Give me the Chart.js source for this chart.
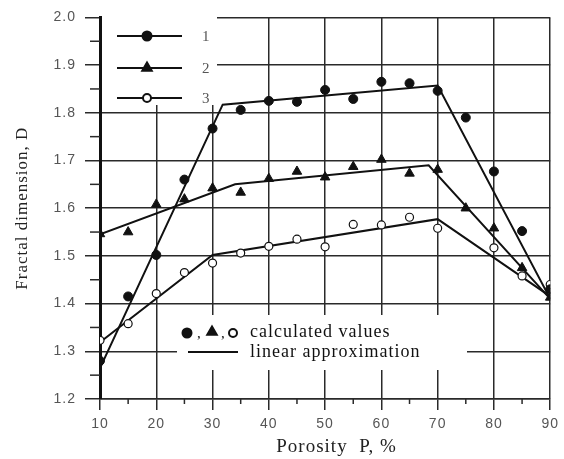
<!DOCTYPE html>
<html>
<head>
<meta charset="utf-8">
<script src="https://cdn.jsdelivr.net/npm/chart.js@4.4.0/dist/chart.umd.min.js"></script>
<style>
  html, body { margin: 0; padding: 0; background: #fff; }
</style>
</head>
<body>
<canvas id="fractalChart" width="564" height="459"></canvas>
<script>
// porosity values where D was calculated
const porosity = [10, 15, 20, 25, 30, 35, 40, 45, 50, 55, 60, 65, 70, 75, 80, 85, 90];

// calculated values (markers)
const calc1 = [1.28, 1.415, 1.502, 1.66, 1.767, 1.806, 1.825, 1.823, 1.848, 1.829, 1.865, 1.862, 1.846, 1.79, 1.677, 1.552, 1.43];
const calc2 = [1.546, 1.55, 1.608, 1.619, 1.642, 1.633, 1.662, 1.677, 1.665, 1.687, 1.702, 1.673, 1.681, 1.60, 1.558, 1.475, 1.413];
const calc3 = [1.323, 1.358, 1.421, 1.465, 1.485, 1.506, 1.52, 1.535, 1.519, 1.566, 1.565, 1.581, 1.558, null, 1.517, 1.458, 1.44];

// linear approximation (broken lines)
const lin1P = [10, 31.8, 70, 90];
const lin1D = [1.265, 1.817, 1.857, 1.41];
const lin2P = [10, 34, 68.4, 90];
const lin2D = [1.545, 1.65, 1.69, 1.41];
const lin3P = [10, 30, 70, 90];
const lin3D = [1.319, 1.502, 1.577, 1.415];

const xTicks = [10, 20, 30, 40, 50, 60, 70, 80, 90];
const yTicks = [1.2, 1.3, 1.4, 1.5, 1.6, 1.7, 1.8, 1.9, 2.0];
const xMinor = [15, 25, 35, 45, 55, 65, 75, 85];
const yMinor = [1.25, 1.35, 1.45, 1.55, 1.65, 1.75, 1.85, 1.95];

const seriesNames = ['1', '2', '3'];
const legendText = ['calculated values', 'linear approximation'];

function pts(xs, ys) {
    return xs.map(function(x, i) { return { x: x, y: ys[i] }; });
}

const markerSets = [
    { style: 'circle', radius: 4.5, bg: '#111', border: '#111' },
    { style: 'triangle', radius: 5.5, bg: '#111', border: '#111' },
    { style: 'circle', radius: 4, bg: '#fff', border: '#111' }
];

function marker(ctx, m, x, y) {
    ctx.save();
    ctx.fillStyle = m.bg;
    ctx.strokeStyle = m.border;
    Chart.helpers.drawPoint(ctx, { pointStyle: m.style, radius: m.radius, borderWidth: 1.2, rotation: 0 }, x, y);
    ctx.restore();
}

// white boxes with the two legends, drawn on top of the grid
const boxLegends = {
    id: 'boxLegends',
    beforeDraw(chart) {
        chart.ctx.letterSpacing = '1px';
    },
    beforeDatasetsDraw(chart) {
        const ctx = chart.ctx;
        ctx.save();
        ctx.fillStyle = '#fff';
        ctx.fillRect(102, 16, 115, 89);
        ctx.fillRect(177, 315, 290, 55);
        ctx.restore();
    },
    afterDatasetsDraw(chart) {
        const ctx = chart.ctx;
        const x = chart.scales.x, y = chart.scales.y;
        ctx.save();
        ctx.letterSpacing = '0px';
        ctx.strokeStyle = '#2a2a2a';
        ctx.lineWidth = 1.5;
        // minor ticks
        yMinor.forEach(function(v) {
            const py = y.getPixelForValue(v);
            ctx.beginPath(); ctx.moveTo(x.left - 10, py); ctx.lineTo(x.left, py); ctx.stroke();
        });
        xMinor.forEach(function(v) {
            const px = x.getPixelForValue(v);
            ctx.beginPath(); ctx.moveTo(px, y.bottom); ctx.lineTo(px, y.bottom + 5); ctx.stroke();
        });

        // top-left legend: 1, 2, 3
        const rows = [36, 68, 98];
        ctx.strokeStyle = '#111';
        ctx.lineWidth = 2;
        ctx.font = '15px "Liberation Serif"';
        ctx.fillStyle = '#555';
        ctx.textBaseline = 'middle';
        rows.forEach(function(ry, i) {
            ctx.beginPath(); ctx.moveTo(117, ry); ctx.lineTo(182, ry); ctx.stroke();
            marker(ctx, markerSets[i], 147, ry);
            ctx.fillText(seriesNames[i], 202, ry + 1);
        });

        // bottom legend
        ctx.fillStyle = '#111';
        marker(ctx, markerSets[0], 187, 333);
        ctx.fillText(',', 197, 334);
        marker(ctx, markerSets[1], 212, 332);
        ctx.fillText(',', 221, 334);
        marker(ctx, markerSets[2], 233, 333);
        ctx.beginPath(); ctx.moveTo(188, 352); ctx.lineTo(238, 352); ctx.stroke();
        ctx.font = '18px "Liberation Serif"';
        ctx.letterSpacing = '1px';
        ctx.fillText(legendText[0], 250, 332);
        ctx.fillText(legendText[1], 250, 352);
        ctx.restore();
    }
};

const lineStyle = { showLine: true, borderColor: '#111', borderWidth: 2, pointRadius: 0, fill: false, tension: 0 };

const config = {
    type: 'line',
    data: {
        datasets: [
            { label: 'calc 1', data: pts(porosity, calc1), showLine: false, pointStyle: 'circle', pointRadius: 4.5, pointBackgroundColor: '#111', pointBorderColor: '#111', pointBorderWidth: 1 },
            { label: 'calc 2', data: pts(porosity, calc2), showLine: false, pointStyle: 'triangle', pointRadius: 5.5, pointBackgroundColor: '#111', pointBorderColor: '#111', pointBorderWidth: 1 },
            { label: 'calc 3', data: pts(porosity, calc3), showLine: false, pointStyle: 'circle', pointRadius: 4, pointBackgroundColor: '#fff', pointBorderColor: '#111', pointBorderWidth: 1.2 },
            Object.assign({ label: 'lin 1', data: pts(lin1P, lin1D) }, lineStyle),
            Object.assign({ label: 'lin 2', data: pts(lin2P, lin2D) }, lineStyle),
            Object.assign({ label: 'lin 3', data: pts(lin3P, lin3D) }, lineStyle)
        ]
    },
    options: {
        responsive: false,
        animation: false,
        layout: { padding: { top: 14, right: 12, left: 0, bottom: 0 } },
        plugins: {
            legend: { display: false },
            tooltip: { enabled: false }
        },
        scales: {
            x: {
                type: 'linear',
                min: xTicks[0],
                max: xTicks[xTicks.length - 1],
                afterBuildTicks: function(s) { s.ticks = xTicks.map(function(v) { return { value: v }; }); },
                afterFit: function(s) { s.height = 60; },
                ticks: { color: '#555', font: { family: '"Liberation Sans"', size: 14 }, padding: 6, maxRotation: 0 },
                grid: { color: '#2a2a2a', lineWidth: 1.5, tickLength: 11 },
                border: { color: '#2a2a2a', width: 1.5 },
                title: { display: true, text: '    Porosity  P, %', color: '#222', font: { family: '"Liberation Serif"', size: 19 }, padding: { top: 0, bottom: 1 } }
            },
            y: {
                type: 'linear',
                min: yTicks[0],
                max: yTicks[yTicks.length - 1],
                afterBuildTicks: function(s) { s.ticks = yTicks.map(function(v) { return { value: v }; }); },
                afterFit: function(s) { s.width = 100; },
                ticks: { color: '#555', font: { family: '"Liberation Sans"', size: 14 }, padding: 9, callback: function(v) { return v.toFixed(1); } },
                grid: { color: '#2a2a2a', lineWidth: 1.5, tickLength: 15 },
                border: { color: '#111', width: 3 },
                title: { display: true, text: 'Fractal dimension, D', color: '#222', font: { family: '"Liberation Serif"', size: 17 }, padding: { top: 12, bottom: 0 } }
            }
        }
    },
    plugins: [boxLegends]
};

const fractalChart = new Chart(document.getElementById('fractalChart'), config);
</script>
</body>
</html>
